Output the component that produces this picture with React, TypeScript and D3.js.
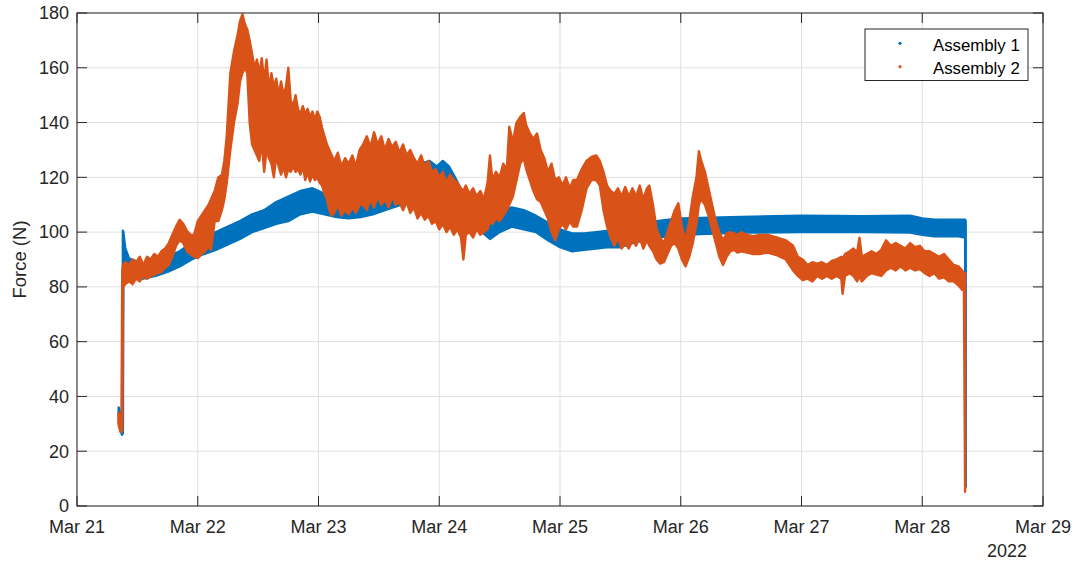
import React from 'react';
import * as d3 from 'd3';

type Row = [number, number, number]; // [days since Mar 21, low, high]

const yTicks = [0, 20, 40, 60, 80, 100, 120, 140, 160, 180];
const seriesNames = ['Assembly 1', 'Assembly 2'];
const seriesColors = ['#0072BD', '#D95319'];

// Assembly 1 envelope (low / high of the dense samples)
const assembly1: Row[] = [
  [0.345, 33, 36], [0.36, 28, 34], [0.372, 26, 30], [0.378, 26.5, 30], [0.38, 26.5, 100.5],
  [0.384, 84, 100], [0.40, 84, 94], [0.43, 83, 90.5], [0.45, 83, 90], [0.55, 83, 88.5],
  [0.65, 84, 89], [0.75, 85.5, 91], [0.85, 87.5, 93], [0.95, 90, 96], [1.05, 92, 98],
  [1.15, 93.5, 100], [1.25, 95.5, 102], [1.35, 97.5, 104], [1.45, 100, 106.5], [1.55, 101.5, 108],
  [1.65, 103, 111], [1.75, 104, 113], [1.85, 106.5, 115], [1.95, 107.5, 116], [2.05, 106.5, 114],
  [2.15, 105.5, 112.5], [2.25, 105, 112], [2.35, 105.5, 113], [2.45, 106.5, 114], [2.55, 108, 116],
  [2.65, 109.5, 118], [2.75, 111, 121], [2.85, 115, 125], [2.92, 117, 126], [2.98, 116, 124],
  [3.03, 117, 126], [3.08, 116, 124], [3.13, 112, 120], [3.2, 107, 114], [3.3, 102, 108],
  [3.42, 97.5, 104], [3.5, 100, 107], [3.6, 102, 109], [3.7, 101, 108], [3.8, 100, 106],
  [3.9, 97, 103.5], [4.0, 94.5, 101], [4.1, 93, 99.5], [4.2, 93.5, 99.5], [4.3, 94, 100],
  [4.4, 94.5, 100.5], [4.5, 94.5, 101], [4.6, 96, 102], [4.7, 97, 103], [4.8, 98, 104],
  [4.9, 98.5, 104.5], [5.0, 99, 105], [5.5, 99.8, 105.5], [6.0, 100, 106], [6.5, 100, 105.8],
  [6.9, 99.8, 106], [7.0, 99, 105], [7.1, 98.5, 104.5], [7.3, 98.5, 104.5], [7.355, 98, 104.5],
  [7.36, 7, 104],
];

// Assembly 2 envelope (low / high of the dense samples)
const assembly2: Row[] = [
  [0.343, 30, 34], [0.36, 27, 32], [0.368, 27, 30], [0.375, 28, 86], [0.381, 80, 88],
  [0.40, 81, 89], [0.43, 82, 88], [0.46, 81, 90], [0.49, 83, 89], [0.52, 82, 91],
  [0.55, 84, 88], [0.58, 83, 91], [0.61, 84, 90], [0.64, 84.5, 92], [0.67, 85, 91],
  [0.70, 85.5, 93], [0.73, 87, 94], [0.76, 88, 96], [0.79, 91, 99], [0.82, 95, 102],
  [0.85, 97, 104.5], [0.88, 96, 103], [0.91, 93, 100.5], [0.94, 92, 99], [0.97, 91, 99],
  [1.00, 90.5, 104], [1.03, 92, 106], [1.06, 93, 108], [1.09, 95, 110], [1.11, 93.5, 112],
  [1.14, 104, 115], [1.17, 104, 120], [1.20, 108, 121], [1.22, 112, 126], [1.24, 118, 135],
  [1.27, 130, 158], [1.30, 140, 166], [1.33, 147, 172], [1.35, 155, 177], [1.37, 158, 179.5],
  [1.39, 160, 176], [1.41, 158, 174], [1.43, 140, 170], [1.45, 132, 165], [1.47, 130, 160],
  [1.49, 128, 163], [1.51, 126, 158], [1.53, 133, 163.5], [1.55, 122, 155], [1.57, 130, 163],
  [1.59, 127, 152], [1.61, 125, 158], [1.63, 120, 153], [1.65, 128, 156], [1.67, 124, 150],
  [1.69, 121, 155], [1.71, 124, 150], [1.73, 120, 153], [1.75, 123, 160], [1.77, 122, 148],
  [1.79, 124, 146], [1.81, 122, 150], [1.83, 123, 145], [1.85, 121, 143], [1.87, 124, 146],
  [1.89, 119, 143], [1.91, 122, 145], [1.93, 118.5, 142], [1.95, 121, 144], [1.97, 119, 141],
  [1.99, 120, 144], [2.01, 118, 142], [2.03, 117, 138], [2.05, 114, 135], [2.07, 112, 132],
  [2.09, 108, 130], [2.11, 106, 128], [2.13, 107, 126], [2.16, 110, 129], [2.19, 106, 124],
  [2.22, 108, 127], [2.25, 106.5, 125], [2.28, 109, 128], [2.31, 107, 124], [2.34, 110, 130],
  [2.37, 110, 132], [2.40, 108, 135], [2.43, 112, 131], [2.46, 109, 136.5], [2.49, 113, 132],
  [2.52, 110, 135], [2.55, 112, 130], [2.58, 109, 134], [2.61, 113, 131], [2.64, 110, 133],
  [2.67, 111, 129], [2.70, 108, 132], [2.73, 111, 128], [2.76, 107, 130], [2.79, 109, 127],
  [2.82, 105, 125], [2.85, 107, 128], [2.88, 104.5, 124], [2.91, 106, 126], [2.94, 103, 122],
  [2.97, 104, 123], [3.00, 101, 120], [3.03, 103, 122], [3.06, 100, 118], [3.09, 102, 121],
  [3.12, 99, 119], [3.15, 101, 118], [3.18, 98, 116], [3.20, 90, 115], [3.22, 99, 117],
  [3.25, 100, 114], [3.28, 98, 116], [3.31, 101, 113], [3.34, 99, 115], [3.37, 100, 112],
  [3.40, 101, 118], [3.42, 104, 128], [3.44, 103, 119], [3.47, 105, 122], [3.50, 104, 120],
  [3.53, 106, 125], [3.56, 108, 123], [3.58, 110, 138.5], [3.61, 113, 133], [3.64, 119, 140],
  [3.67, 125, 142], [3.70, 127, 143.5], [3.72, 123, 139], [3.75, 119, 136], [3.78, 115, 134],
  [3.81, 112, 136], [3.84, 111, 130], [3.87, 108, 127], [3.90, 105, 122], [3.93, 100, 125],
  [3.96, 97, 119], [3.99, 101, 120], [4.02, 103, 117], [4.05, 101, 120], [4.08, 104, 116],
  [4.11, 102, 119], [4.14, 102, 119], [4.18, 108, 123], [4.22, 116, 126], [4.26, 119, 127.5],
  [4.30, 119, 128], [4.33, 117, 126], [4.36, 108, 122], [4.39, 102, 117], [4.42, 98, 115],
  [4.45, 95, 114], [4.48, 98, 116], [4.51, 94, 113], [4.54, 96, 116.5], [4.57, 94, 113],
  [4.60, 97, 116], [4.63, 95, 113], [4.66, 98, 117], [4.69, 94, 112], [4.72, 97, 116],
  [4.74, 95, 117], [4.77, 93, 110], [4.80, 90, 101], [4.83, 88.5, 98], [4.86, 89, 96],
  [4.89, 92, 100], [4.92, 95, 104], [4.95, 96, 108], [4.98, 94, 110.5], [5.01, 90, 102],
  [5.04, 87.5, 97], [5.07, 91, 104], [5.10, 96, 113], [5.13, 103, 120], [5.15, 110, 129.5],
  [5.17, 112, 126], [5.20, 110, 122], [5.23, 106, 116], [5.26, 101, 110], [5.29, 96, 104],
  [5.32, 91, 100], [5.35, 88, 97], [5.38, 91, 99.5], [5.41, 93, 100], [5.44, 93.5, 99.5],
  [5.47, 92.5, 99], [5.50, 93, 100], [5.55, 92.5, 99], [5.60, 92, 98.5], [5.65, 92, 99],
  [5.72, 92.5, 99], [5.80, 91.5, 98], [5.87, 90, 97], [5.93, 86, 95], [5.97, 84, 91],
  [6.01, 82.5, 90], [6.05, 83, 88], [6.09, 82, 89], [6.13, 84, 88.5], [6.17, 83, 89],
  [6.21, 84, 88], [6.25, 83, 89.5], [6.29, 84, 90], [6.33, 83, 91], [6.34, 77.5, 90],
  [6.36, 84, 92], [6.40, 85, 93], [6.43, 84, 94], [6.46, 82, 92.5], [6.48, 84, 98],
  [6.50, 82, 91], [6.54, 84, 92], [6.58, 85, 93], [6.62, 84.5, 92], [6.66, 84, 93.5],
  [6.70, 86, 97], [6.74, 87, 95], [6.78, 86, 96], [6.82, 87.5, 95], [6.86, 86, 94],
  [6.90, 87, 96], [6.94, 86, 94.5], [6.98, 86.5, 95], [7.02, 85, 93], [7.06, 84, 93],
  [7.10, 85, 92], [7.14, 83, 91], [7.18, 83.5, 92], [7.22, 82, 90], [7.26, 82, 88],
  [7.30, 80.5, 87.5], [7.33, 79, 86], [7.345, 80, 85], [7.355, 5.2, 85],
];

const L = 77, R = 1043, T = 13, B = 506;
const FONT = '"Liberation Sans", Arial, Helvetica, sans-serif';
const INK = '#262626';
const GRID = '#dfdfdf';

export default function App() {
  const start = Date.UTC(2022, 2, 21);
  const x = d3.scaleUtc().domain([new Date(start), new Date(Date.UTC(2022, 2, 29))]).range([L, R]);
  const y = d3.scaleLinear().domain([0, 180]).range([B, T]);
  const toDate = (t: number) => new Date(start + t * 86400000);
  const xTicks = x.ticks(d3.utcDay.every(1) as any);
  const fmt = d3.utcFormat('%b %d');
  const area = d3.area<Row>()
    .x(d => x(toDate(d[0])))
    .y0(d => y(d[1]))
    .y1(d => y(d[2]));
  const tickLen = 10;

  return (
    <svg width={1076} height={561} style={{ position: 'absolute', left: 0, top: 0, background: '#fff' }}
      fontFamily={FONT}>
      <rect x={0} y={0} width={1076} height={561} fill="#fff" />
      <defs>
        <clipPath id="plotclip">
          <rect x={L} y={T} width={R - L} height={B - T} />
        </clipPath>
      </defs>
      {xTicks.map((d, i) => (
        <line key={'gx' + i} x1={x(d)} x2={x(d)} y1={T} y2={B} stroke={GRID} strokeWidth={1} />
      ))}
      {yTicks.map((v, i) => (
        <line key={'gy' + i} x1={L} x2={R} y1={y(v)} y2={y(v)} stroke={GRID} strokeWidth={1} />
      ))}
      <g clipPath="url(#plotclip)">
        {[assembly1, assembly2].map((rows, i) => (
          <path key={'s' + i} d={area(rows) || ''} fill={seriesColors[i]} stroke={seriesColors[i]}
            strokeWidth={2.4} strokeLinejoin="round" />
        ))}
      </g>
      <rect x={L} y={T} width={R - L} height={B - T} fill="none" stroke={INK} strokeWidth={1} />
      {xTicks.map((d, i) => (
        <g key={'tx' + i}>
          <line x1={x(d)} x2={x(d)} y1={B} y2={B - tickLen} stroke={INK} strokeWidth={1} />
          <line x1={x(d)} x2={x(d)} y1={T} y2={T + tickLen} stroke={INK} strokeWidth={1} />
          <text x={x(d)} y={533} textAnchor="middle" fontSize={18} fill={INK}>{fmt(d)}</text>
        </g>
      ))}
      {yTicks.map((v, i) => (
        <g key={'ty' + i}>
          <line x1={L} x2={L + tickLen} y1={y(v)} y2={y(v)} stroke={INK} strokeWidth={1} />
          <line x1={R} x2={R - tickLen} y1={y(v)} y2={y(v)} stroke={INK} strokeWidth={1} />
          <text x={69} y={y(v)} dy="0.35em" textAnchor="end" fontSize={18} fill={INK}>{v}</text>
        </g>
      ))}
      <text x={1027} y={557} textAnchor="end" fontSize={18} fill={INK}>2022</text>
      <text transform={`translate(26, ${(T + B) / 2}) rotate(-90)`} textAnchor="middle" fontSize={18.5} fill={INK}>
        Force (N)
      </text>
      <g>
        <rect x={865} y={29} width={163} height={51.5} fill="#fff" stroke={INK} strokeWidth={1} />
        {seriesNames.map((name, i) => (
          <g key={'lg' + i}>
            <circle cx={900} cy={43.3 + i * 23.4} r={1.6} fill={seriesColors[i]} />
            <text x={933} y={50.5 + i * 23.4} fontSize={16.8} fill="#000">{name}</text>
          </g>
        ))}
      </g>
    </svg>
  );
}
